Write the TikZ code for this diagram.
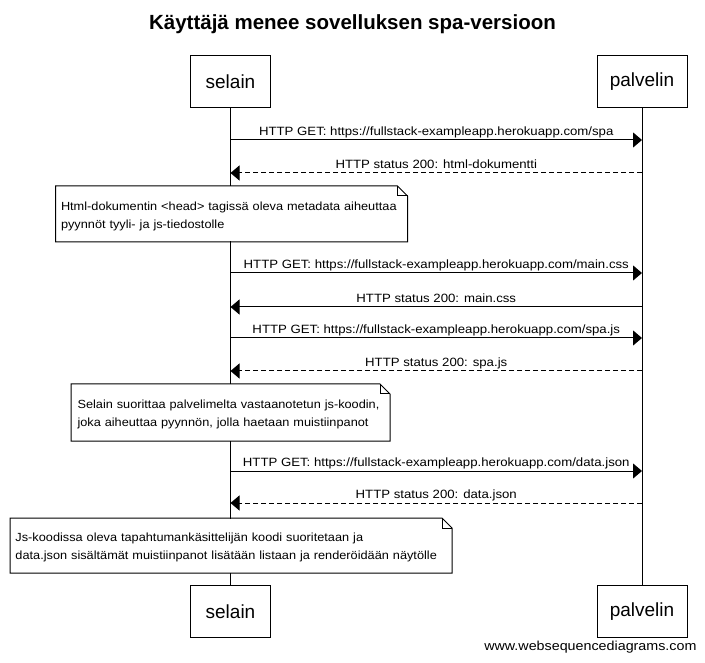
\documentclass[tikz,border=0pt]{standalone}
\usepackage{fontspec}
\setmainfont{Liberation Sans}
\newfontfamily\labfont[FakeStretch=1.1]{Liberation Sans}
\newfontfamily\notefont[FakeStretch=1.08]{Liberation Sans}
\usetikzlibrary{arrows.meta,calc}
\begin{document}
\begin{tikzpicture}[x=1pt,y=-1pt,line width=1pt,
  actor/.style={draw,fill=white,minimum width=80pt,minimum height=52pt,inner sep=0pt,font=\fontsize{19}{22}\selectfont},
  msg/.style={-{Triangle[length=9pt,width=15pt]}},
  reply/.style={msg,dash pattern=on 5pt off 3pt},
  lbl/.style={midway,anchor=base,yshift=4.5pt,inner sep=0pt,font=\labfont\fontsize{12}{14}\selectfont},
  notebox/.style={fill=white,anchor=north west,inner xsep=5pt,inner ysep=0pt,align=left,text height=13pt,font=\notefont\fontsize{11.8}{18}\selectfont}
]
\useasboundingbox[fill=white] (0,0) rectangle (705,663);

\node[anchor=base,font=\bfseries\fontsize{20.5}{24}\selectfont] (title) at (352.5,30) {Käyttäjä menee sovelluksen spa-versioon};

\node[actor] (s1) at (230.5,81.5) {selain};
\node[actor,minimum width=90pt] (p1) at (642,81.5) {palvelin};
\node[actor] (s2) at (230.5,611.5) {selain};
\node[actor,minimum width=90pt] (p2) at (642,611.5) {palvelin};
\draw (s1) -- (s2);
\draw (p1) -- (p2);

\foreach \n/\y in {a/140,b/173,c/273,d/307,e/338,f/371,g/471,h/503}{
  \coordinate (s\n) at (s1.center |- 0,\y);
  \coordinate (p\n) at (p1.center |- 0,\y);
}

\draw[msg] (sa) -- node[lbl]{HTTP GET: https://fullstack-exampleapp.herokuapp.com/spa} (pa);
\draw[reply] (pb) -- node[lbl]{HTTP status 200: html-dokumentti} (sb);
\draw[msg] (sc) -- node[lbl]{HTTP GET: https://fullstack-exampleapp.herokuapp.com/main.css} (pc);
\draw[msg] (pd) -- node[lbl]{HTTP status 200: main.css} (sd);
\draw[msg] (se) -- node[lbl]{HTTP GET: https://fullstack-exampleapp.herokuapp.com/spa.js} (pe);
\draw[reply] (pf) -- node[lbl]{HTTP status 200: spa.js} (sf);
\draw[msg] (sg) -- node[lbl]{HTTP GET: https://fullstack-exampleapp.herokuapp.com/data.json} (pg);
\draw[reply] (ph) -- node[lbl]{HTTP status 200: data.json} (sh);

\node[notebox,text width=341pt,minimum height=55pt] (n1) at (55.5,186)
  {\mbox{Html-dokumentin <head> tagissä oleva metadata aiheuttaa}\\\mbox{pyynnöt tyyli- ja js-tiedostolle}};
\node[notebox,text width=306pt,inner xsep=6pt,minimum height=56pt] (n2) at (71,384)
  {\mbox{Selain suorittaa palvelimelta vastaanotetun js-koodin,}\\\mbox{joka aiheuttaa pyynnön, jolla haetaan muistiinpanot}};
\node[notebox,text width=431pt,minimum height=54pt] (n3) at (10,518)
  {\mbox{Js-koodissa oleva tapahtumankäsittelijän koodi suoritetaan ja}\\\mbox{data.json sisältämät muistiinpanot lisätään listaan ja renderöidään näytölle}};

\foreach \m in {n1,n2,n3}{
  \draw (\m.north west) -- ($(\m.north east)+(-10,0)$) -- ($(\m.north east)+(0,10)$) -- (\m.south east) -- (\m.south west) -- cycle;
  \draw ($(\m.north east)+(-10,0)$) |- ($(\m.north east)+(0,10)$);
}

\node[anchor=east,inner sep=0pt,font=\labfont\fontsize{13}{15}\selectfont] (wm) at (697,647) {www.websequencediagrams.com};
\end{tikzpicture}
\end{document}
